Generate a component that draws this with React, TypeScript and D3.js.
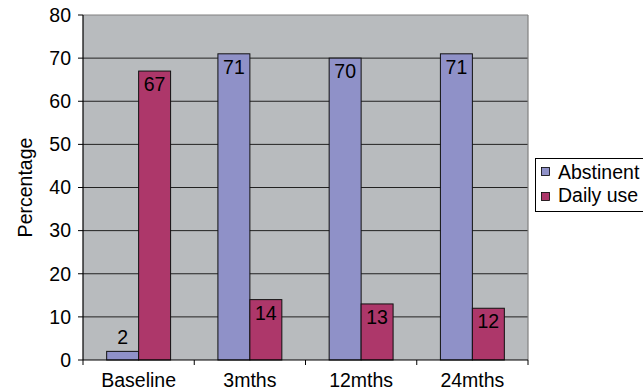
import React from "react";
import * as d3 from "d3";

const categories = ["Baseline", "3mths", "12mths", "24mths"];
const seriesNames = ["Abstinent", "Daily use"];
const abstinent = [2, 71, 70, 71];
const dailyUse = [67, 14, 13, 12];
const yTicks = [0, 10, 20, 30, 40, 50, 60, 70, 80];
const colors = ["#8f91c8", "#ad376a"];

export default function App() {
  const W = 643, H = 391;
  const left = 83, right = 528, top = 15, bottom = 360;
  const x = d3.scaleBand<string>().domain(categories).range([left, right]).paddingInner(0).paddingOuter(0);
  const inner = d3.scaleBand<string>().domain(seriesNames).range([0, x.bandwidth()]).paddingOuter(0.74).paddingInner(0);
  const y = d3.scaleLinear().domain([0, 80]).range([bottom, top]);
  const series = [abstinent, dailyUse];
  const font = "'Liberation Sans', Arial, sans-serif";
  const fs = 19.5;

  return (
    <div style={{ position: "absolute", left: 0, top: 0 }}>
      <svg width={W} height={H} style={{ display: "block", background: "#fff" }} fontFamily={font}>
        <rect x={left} y={top} width={right - left} height={bottom - top} fill="#b8bbbe" />
        {yTicks.filter(t => t > 0 && t < 80).map(t => (
          <line key={t} x1={left} x2={right} y1={y(t)} y2={y(t)} stroke="#222" strokeWidth={1} />
        ))}
        <line x1={left} x2={right} y1={top} y2={top} stroke="#808080" strokeWidth={1.2} />
        <line x1={right} x2={right} y1={top} y2={bottom} stroke="#808080" strokeWidth={1.2} />
        {categories.map((c, i) =>
          series.map((s, j) => {
            const bx = (x(c) as number) + (inner(seriesNames[j]) as number);
            const bw = inner.bandwidth();
            const v = s[i];
            const by = y(v);
            return (
              <g key={c + j}>
                <rect x={bx} y={by} width={bw} height={bottom - by} fill={colors[j]} stroke="#111" strokeWidth={1} />
                <text x={bx + bw / 2} y={v < 5 ? by - 7 : by + 20} textAnchor="middle" fontSize={fs} fill="#000">{v}</text>
              </g>
            );
          })
        )}
        <line x1={left} x2={left} y1={top} y2={bottom} stroke="#000" strokeWidth={1.2} />
        <line x1={left} x2={right} y1={bottom} y2={bottom} stroke="#000" strokeWidth={1.2} />
        {yTicks.map(t => (
          <g key={t}>
            <line x1={left - 5} x2={left} y1={y(t)} y2={y(t)} stroke="#000" />
            <text x={71} y={y(t)} dy="0.35em" textAnchor="end" fontSize={fs}>{t}</text>
          </g>
        ))}
        {[...categories.map(c => x(c) as number), right].map((t, i) => (
          <line key={i} x1={t} x2={t} y1={bottom} y2={bottom + 5} stroke="#000" />
        ))}
        {categories.map(c => (
          <text key={c} x={(x(c) as number) + x.bandwidth() / 2} y={bottom + 27} textAnchor="middle" fontSize={fs}>{c}</text>
        ))}
        <text transform={`translate(32, ${(top + bottom) / 2}) rotate(-90)`} textAnchor="middle" fontSize={fs}>Percentage</text>
        <rect x={535.5} y={158.5} width={120} height={53} fill="#fff" stroke="#000" strokeWidth={1} />
        {seriesNames.map((n, j) => (
          <g key={n}>
            <rect x={541.5} y={167.5 + j * 25} width={8} height={8} fill={colors[j]} stroke="#000" strokeWidth={0.8} />
            <text x={558} y={179 + j * 23} fontSize={fs}>{n}</text>
          </g>
        ))}
      </svg>
    </div>
  );
}
